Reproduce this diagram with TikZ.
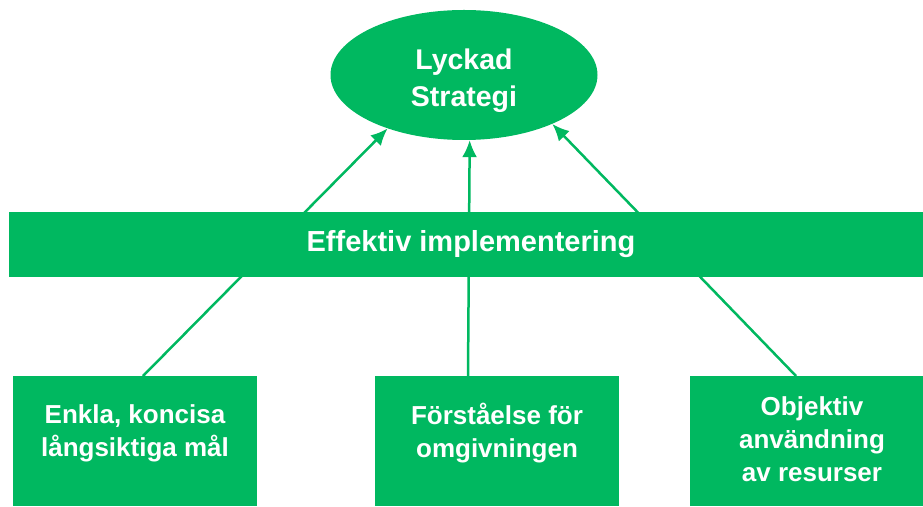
\documentclass[tikz,border=0pt]{standalone}
\usepackage{fontspec}
\setmainfont{Liberation Sans}
\usepackage{tikz}
\usetikzlibrary{shapes.geometric,arrows.meta}
\definecolor{strgreen}{RGB}{0,184,96}

\begin{document}
\begin{tikzpicture}[x=1pt,y=1pt,
    goal/.style={fill=strgreen,draw=none,minimum width=244,minimum height=130,anchor=north},
    goaltext/.style={text=white,align=center,font=\bfseries\fontsize{26}{33}\selectfont},
    link/.style={draw=strgreen,line width=2.5pt,-{Latex[length=17pt,width=15pt]}}]
                      \useasboundingbox (0,0) rectangle (923,506);
                      % top: the goal
                      \node[ellipse,fill=strgreen,minimum width=267,minimum height=130](mal)at(464,431){};
                      \node[text=white,align=center,font=\bfseries\fontsize{28.5}{37}\selectfont](malT)
                            at([yshift=-6]mal.center){Lyckad\\Strategi};
                      % bottom: three boxes
                      \node[goal](enkla)at(135,130){};
                      \node[goal](forst)at(497,130){};
                      \node[goal](objek)at(812,130){};
                      \node[goaltext](enklaT)at([yshift=8]enkla.center){Enkla, koncisa\\långsiktiga mål};
                      \node[goaltext](forstT)at([yshift=8]forst.center){Förståelse för\\omgivningen};
                      \node[goaltext](objekT)at([yshift=2]objek.center){Objektiv\\användning\\av resurser};
                      \draw[link]([xshift=8]enkla.north)--(mal.215);
                      \draw[link]([xshift=-29]forst.north)--(mal.275);
                      \draw[link]([xshift=-16]objek.north)--(mal.331);
                      % the bar lies over the arrows
                      \node[fill=strgreen,minimum width=924,minimum height=65,text=white,
                            font=\bfseries\fontsize{29}{34}\selectfont](impl)at(471,261.5){Effektiv implementering};
                  \end{tikzpicture}
\end{document}
